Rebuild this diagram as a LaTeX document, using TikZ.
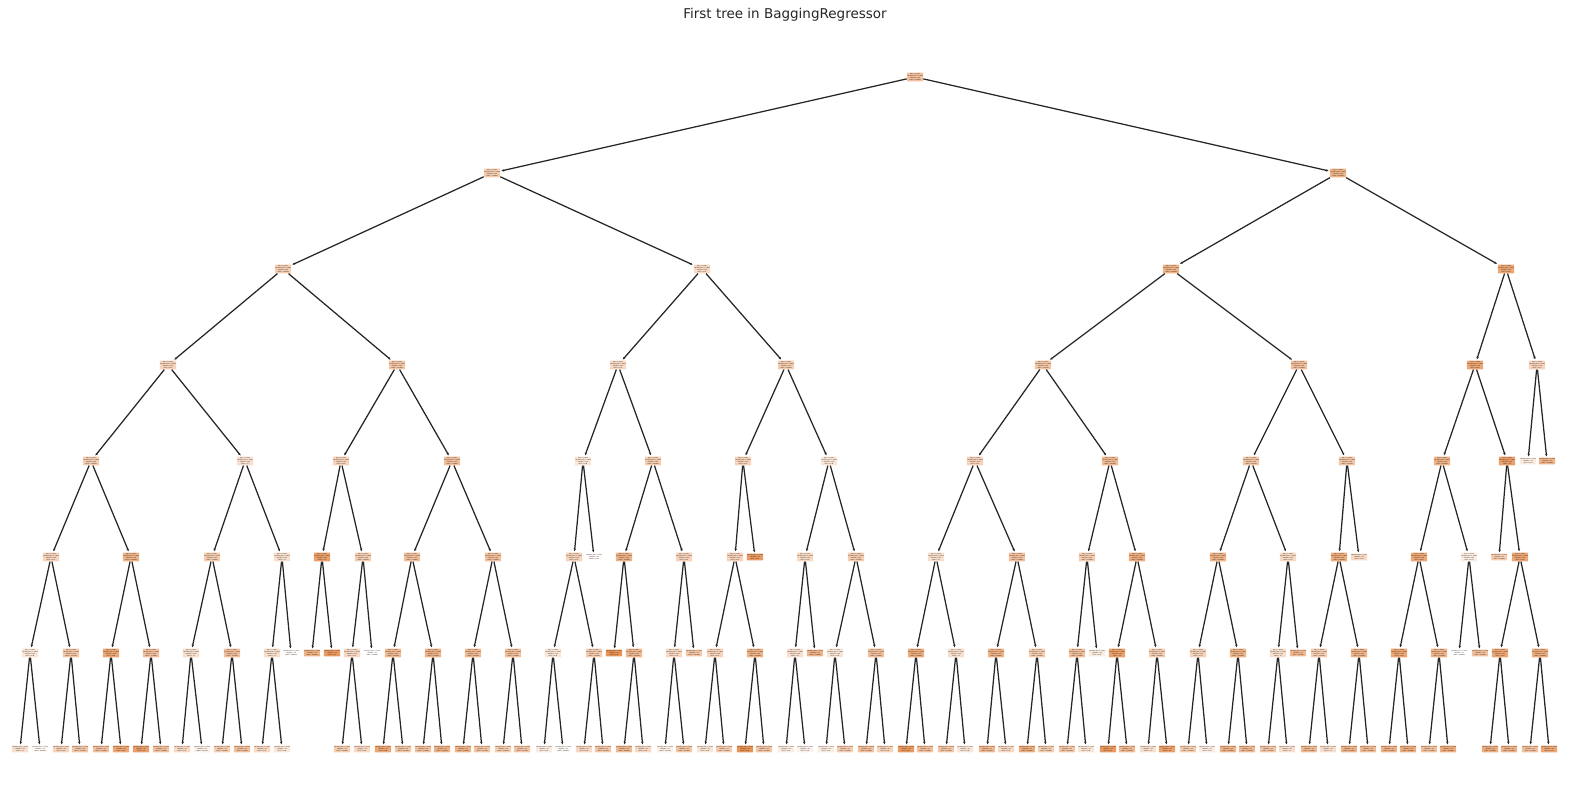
\documentclass[tikz,border=0pt]{standalone}
\usepackage{fontspec}
\setmainfont{DejaVu Sans}
\usetikzlibrary{arrows.meta}
\definecolor{org}{RGB}{229,129,57}
\definecolor{edg}{RGB}{38,38,38}
\tikzset{
  nd/.style={rounded corners=0.6pt, inner sep=0.45pt, align=center, text=black,
    font=\fontsize{1.35}{1.2}\selectfont},
  ed/.style={draw=edg, line width=1.25pt, -{Stealth[length=2.6pt,width=2.4pt]}, shorten >=1.2pt},
}
\newcommand\SN[4]{\pgfmathsetmacro\vv{round(1000*(0.6+4.4*#4/100))/1000}%
  \node[nd,fill=org!#4!white] (#1) at (#2,{77+96*#3})
  {x[0] <= 0.535\\squared\_error = 0.843\\samples = 120\\value = \vv};}
\newcommand\LN[4]{\pgfmathsetmacro\vv{round(1000*(0.6+4.4*#4/100))/1000}%
  \node[nd,fill=org!#4!white] (#1) at (#2,{77+96*#3})
  {squared\_error = 0.214\\samples = 14\\value = \vv};}
\begin{document}
\begin{tikzpicture}[x=1pt,y=-1pt]
\useasboundingbox (0,0) rectangle (1570,808);
\node[font=\fontsize{13.5}{16}\selectfont, text=edg] (title) at (785,15) {First tree in BaggingRegressor};
% split nodes
\foreach \n/\x/\r/\a in {
 a915/915/0/50,
 b492/492/1/40, b1338/1338/1/60,
 c283/283/2/40, c702/702/2/30, c1171/1171/2/60, c1506/1506/2/70,
 d168/168/3/35, d397/397/3/45, d618/618/3/30, d786/786/3/40, d1043/1043/3/45, d1299/1299/3/50, d1475/1475/3/70, d1537/1537/3/35,
 e91/91/4/40, e245/245/4/25, e341/341/4/35, e452/452/4/50, e583/583/4/20, e653/653/4/40, e743/743/4/35, e829/829/4/20,
 e975/975/4/35, e1110/1110/4/55, e1251/1251/4/45, e1347/1347/4/45, e1442/1442/4/60, e1507/1507/4/75,
 f51/51/5/35, f131/131/5/60, f212/212/5/40, f282/282/5/25, f322/322/5/75, f363/363/5/40,
 f412/412/5/50, f493/493/5/50, f574/574/5/35, f624/624/5/60, f684/684/5/35, f735/735/5/35,
 f805/805/5/30, f856/856/5/40, f936/936/5/25, f1017/1017/5/50, f1087/1087/5/40, f1137/1137/5/65,
 f1218/1218/5/60, f1288/1288/5/30, f1339/1339/5/65, f1419/1419/5/70, f1469/1469/5/15, f1520/1520/5/70,
 g30/30/6/20, g71/71/6/45, g111/111/6/70, g151/151/6/50, g191/191/6/25, g232/232/6/50, g272/272/6/25,
 g352/352/6/30, g393/393/6/55, g433/433/6/60, g473/473/6/55, g513/513/6/50, g553/553/6/20, g594/594/6/40,
 g634/634/6/55, g674/674/6/30, g715/715/6/35, g755/755/6/60, g795/795/6/25, g835/835/6/20, g876/876/6/50,
 g916/916/6/65, g956/956/6/25, g996/996/6/60, g1037/1037/6/40, g1077/1077/6/50, g1117/1117/6/75, g1157/1157/6/40,
 g1198/1198/6/35, g1238/1238/6/60, g1278/1278/6/25, g1319/1319/6/40, g1359/1359/6/60, g1399/1399/6/70,
 g1439/1439/6/60, g1500/1500/6/70, g1540/1540/6/65}
 {\SN{\n}{\x}{\r}{\a}}
% leaves
\foreach \n/\x/\r/\a in {
 e1528/1528/4/15, e1547/1547/4/60,
 f594/594/5/3, f755/755/5/80, f1359/1359/5/30, f1499/1499/5/40,
 g291/291/6/2, g312/312/6/60, g332/332/6/80, g372/372/6/0, g614/614/6/85, g694/694/6/45,
 g815/815/6/60, g1097/1097/6/15, g1298/1298/6/55, g1459/1459/6/0, g1480/1480/6/50,
 h20/20/7/25, h40/40/7/5, h61/61/7/35, h80/80/7/45, h101/101/7/50, h121/121/7/70, h141/141/7/75, h161/161/7/50,
 h182/182/7/30, h202/202/7/12, h222/222/7/40, h242/242/7/50, h262/262/7/30, h282/282/7/20, h342/342/7/40,
 h362/362/7/30, h383/383/7/70, h403/403/7/45,
 h423/423/7/50, h442/442/7/60, h463/463/7/60, h482/482/7/45, h503/503/7/40, h522/522/7/45, h544/544/7/15,
 h563/563/7/5, h584/584/7/30, h603/603/7/45, h624/624/7/55, h643/643/7/30, h665/665/7/12, h684/684/7/45,
 h705/705/7/20, h724/724/7/40, h745/745/7/85, h764/764/7/45,
 h786/786/7/15, h805/805/7/10, h826/826/7/15, h845/845/7/40, h866/866/7/50, h885/885/7/35, h906/906/7/80,
 h925/925/7/50, h946/946/7/45, h965/965/7/20, h987/987/7/55, h1006/1006/7/30, h1027/1027/7/65, h1046/1046/7/40,
 h1067/1067/7/45, h1086/1086/7/20, h1108/1108/7/80, h1127/1127/7/55, h1148/1148/7/25, h1167/1167/7/75,
 h1188/1188/7/40, h1207/1207/7/15, h1228/1228/7/60, h1247/1247/7/55, h1268/1268/7/45, h1287/1287/7/25,
 h1309/1309/7/55, h1328/1328/7/25, h1349/1349/7/60, h1368/1368/7/55, h1389/1389/7/60, h1408/1408/7/65,
 h1429/1429/7/50, h1448/1448/7/65, h1490/1490/7/65, h1509/1509/7/60, h1530/1530/7/50, h1549/1549/7/70}
 {\LN{\n}{\x}{\r}{\a}}
% edges
\foreach \p/\c in {
 a915/b492, a915/b1338,
 b492/c283, b492/c702, b1338/c1171, b1338/c1506,
 c283/d168, c283/d397, c702/d618, c702/d786, c1171/d1043, c1171/d1299, c1506/d1475, c1506/d1537,
 d168/e91, d168/e245, d397/e341, d397/e452, d618/e583, d618/e653, d786/e743, d786/e829,
 d1043/e975, d1043/e1110, d1299/e1251, d1299/e1347, d1475/e1442, d1475/e1507, d1537/e1528, d1537/e1547,
 e91/f51, e91/f131, e245/f212, e245/f282, e341/f322, e341/f363, e452/f412, e452/f493,
 e583/f574, e583/f594, e653/f624, e653/f684, e743/f735, e743/f755, e829/f805, e829/f856,
 e975/f936, e975/f1017, e1110/f1087, e1110/f1137, e1251/f1218, e1251/f1288, e1347/f1339, e1347/f1359,
 e1442/f1419, e1442/f1469, e1507/f1499, e1507/f1520,
 f51/g30, f51/g71, f131/g111, f131/g151, f212/g191, f212/g232, f282/g272, f282/g291,
 f322/g312, f322/g332, f363/g352, f363/g372, f412/g393, f412/g433, f493/g473, f493/g513,
 f574/g553, f574/g594, f624/g614, f624/g634, f684/g674, f684/g694, f735/g715, f735/g755,
 f805/g795, f805/g815, f856/g835, f856/g876, f936/g916, f936/g956, f1017/g996, f1017/g1037,
 f1087/g1077, f1087/g1097, f1137/g1117, f1137/g1157, f1218/g1198, f1218/g1238, f1288/g1278, f1288/g1298,
 f1339/g1319, f1339/g1359, f1419/g1399, f1419/g1439, f1469/g1459, f1469/g1480, f1520/g1500, f1520/g1540,
 g30/h20, g30/h40, g71/h61, g71/h80, g111/h101, g111/h121, g151/h141, g151/h161,
 g191/h182, g191/h202, g232/h222, g232/h242, g272/h262, g272/h282, g352/h342, g352/h362,
 g393/h383, g393/h403, g433/h423, g433/h442, g473/h463, g473/h482, g513/h503, g513/h522,
 g553/h544, g553/h563, g594/h584, g594/h603, g634/h624, g634/h643, g674/h665, g674/h684,
 g715/h705, g715/h724, g755/h745, g755/h764, g795/h786, g795/h805, g835/h826, g835/h845,
 g876/h866, g876/h885, g916/h906, g916/h925, g956/h946, g956/h965, g996/h987, g996/h1006,
 g1037/h1027, g1037/h1046, g1077/h1067, g1077/h1086, g1117/h1108, g1117/h1127, g1157/h1148, g1157/h1167,
 g1198/h1188, g1198/h1207, g1238/h1228, g1238/h1247, g1278/h1268, g1278/h1287, g1319/h1309, g1319/h1328,
 g1359/h1349, g1359/h1368, g1399/h1389, g1399/h1408, g1439/h1429, g1439/h1448, g1500/h1490, g1500/h1509,
 g1540/h1530, g1540/h1549}
 {\draw[ed] (\p) -- (\c);}
\end{tikzpicture}
\end{document}
